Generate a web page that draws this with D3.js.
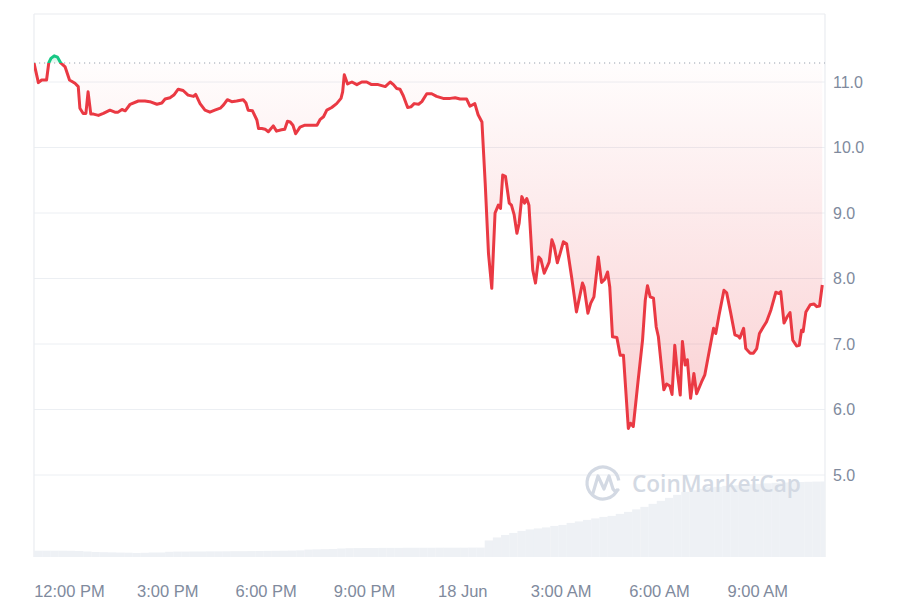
<!DOCTYPE html>
<html><head><meta charset="utf-8">
<script src="https://cdn.jsdelivr.net/npm/d3@7"></script>
<style>html,body{margin:0;padding:0;background:#fff}svg{display:block}</style>
</head><body>
<svg id="chart" width="922" height="614"></svg>
<script>
// ---- data ----
const startTime = new Date(2024, 5, 17, 10, 56);
const spanMinutes = 1448;
// minutes after startTime
const priceMinutes = [0,8,14,23,27,31,37,43,49,57,65,75,81,84,90,95,99,104,109,118,127,139,148,154,161,167,176,191,203,212,225,234,240,249,256,264,273,282,292,296,304,313,322,331,341,347,354,362,371,383,388,392,400,408,411,417,423,429,438,444,453,459,464,469,474,479,487,496,508,518,524,530,536,545,554,562,565,568,574,582,591,600,609,618,630,643,652,658,664,670,676,684,690,696,704,710,719,728,737,749,762,771,780,792,798,807,813,820,826,832,838,844,850,854,858,863,870,874,879,884,888,893,898,902,906,913,918,924,928,934,943,948,952,958,963,969,975,984,993,1004,1007,1014,1019,1025,1033,1039,1045,1050,1054,1059,1067,1073,1079,1088,1092,1097,1106,1114,1119,1123,1128,1134,1139,1143,1153,1158,1164,1168,1173,1178,1183,1187,1192,1196,1202,1208,1213,1222,1228,1237,1244,1248,1254,1263,1268,1275,1283,1289,1292,1299,1303,1311,1317,1323,1328,1335,1341,1349,1358,1364,1367,1373,1379,1384,1389,1396,1401,1405,1408,1413,1421,1428,1433,1438,1443];
const prices = [11.29,10.99,11.03,11.03,11.29,11.36,11.40,11.38,11.29,11.23,11.03,10.98,10.93,10.60,10.52,10.52,10.85,10.51,10.51,10.49,10.52,10.57,10.54,10.54,10.58,10.56,10.66,10.71,10.71,10.70,10.66,10.68,10.74,10.76,10.80,10.89,10.87,10.80,10.78,10.81,10.67,10.57,10.54,10.57,10.60,10.65,10.73,10.70,10.71,10.73,10.68,10.57,10.56,10.42,10.29,10.29,10.28,10.24,10.33,10.25,10.27,10.28,10.40,10.39,10.34,10.21,10.31,10.34,10.34,10.34,10.43,10.47,10.57,10.61,10.67,10.75,10.85,11.11,10.97,11.00,10.96,11.00,11.00,10.96,10.96,10.93,11.00,10.96,10.90,10.89,10.79,10.61,10.62,10.67,10.66,10.70,10.82,10.82,10.78,10.75,10.75,10.76,10.74,10.74,10.63,10.67,10.50,10.39,9.45,8.38,7.85,9.00,9.12,9.07,9.58,9.56,9.15,9.12,8.97,8.69,8.84,9.25,9.15,9.22,9.12,8.13,7.93,8.33,8.29,8.08,8.25,8.59,8.50,8.24,8.38,8.56,8.53,8.03,7.49,7.93,7.87,7.47,7.62,7.72,8.33,7.94,7.99,8.10,7.87,7.11,7.10,6.83,6.83,5.71,5.79,5.74,6.45,7.06,7.67,7.89,7.72,7.70,7.26,7.11,6.30,6.39,6.36,6.23,6.98,6.55,6.22,7.04,6.68,6.76,6.17,6.55,6.24,6.42,6.53,6.93,7.24,7.16,7.44,7.82,7.78,7.49,7.14,7.12,7.09,7.24,6.93,6.86,6.86,6.93,7.16,7.26,7.34,7.52,7.79,7.77,7.80,7.32,7.42,7.48,7.06,6.97,6.98,7.21,7.19,7.49,7.60,7.61,7.57,7.58,7.90];
// volume, one value per 15-minute bar (relative units)
const volumes = [6.3,6.3,6.3,6.3,6.2,6.0,5.5,5.0,4.8,4.6,4.4,4.3,4.0,4.2,4.5,4.5,5.2,5.4,5.4,5.5,5.5,5.6,5.6,5.7,5.8,5.8,5.9,6.0,6.1,6.2,6.3,6.4,6.6,7.4,7.6,7.8,8.0,8.5,8.8,8.9,9.0,9.0,9.1,9.1,9.1,9.2,9.2,9.2,9.2,9.3,9.3,9.3,9.3,9.4,9.4,16.5,19.5,22,24,26,27.5,28.5,29.5,31,32,34,35.5,37,38.5,40,41,43,45,47.5,50,53,56,59,62,65,66.5,68,69.5,70,71,71.5,72,72.5,73,73.5,74,74.3,74.6,74.8,75,75.2,75.3];
const volumeStepMinutes = 15;
const yTicks = [5, 6, 7, 8, 9, 10, 11];
const xTickTimes = [new Date(2024,5,17,12), new Date(2024,5,17,15), new Date(2024,5,17,18), new Date(2024,5,17,21), new Date(2024,5,18,0), new Date(2024,5,18,3), new Date(2024,5,18,6), new Date(2024,5,18,9)];
const xTickLabels = ["12:00 PM","3:00 PM","6:00 PM","9:00 PM","18 Jun","3:00 AM","6:00 AM","9:00 AM"];

// ---- layout ----
const L = 34, R = 825, T = 14, B = 557;
const svg = d3.select("#chart");
const addMin = m => new Date(startTime.getTime() + m * 60000);
const x = d3.scaleTime().domain([startTime, addMin(spanMinutes)]).range([L, R]);
const y = d3.scaleLinear().domain([5, 11]).range([475, 82]);
const vol = d3.scaleLinear().domain([0, d3.max(volumes)]).range([0, 75.5]);
const data = priceMinutes.map((m, i) => ({t: addMin(m), v: prices[i]}));
const base = prices[0];

const defs = svg.append("defs");
defs.append("clipPath").attr("id","plot").append("rect").attr("x",L).attr("y",T).attr("width",R-L).attr("height",B-T);
defs.append("clipPath").attr("id","above").append("rect").attr("x",L).attr("y",T).attr("width",R-L).attr("height",y(base)-T);
defs.append("clipPath").attr("id","below").append("rect").attr("x",L).attr("y",y(base)).attr("width",R-L).attr("height",B-y(base));
const gr = defs.append("linearGradient").attr("id","redg").attr("gradientUnits","userSpaceOnUse")
  .attr("x1",0).attr("x2",0).attr("y1",y(base)).attr("y2",y(5.7));
gr.append("stop").attr("offset","0").attr("stop-color","#ea3943").attr("stop-opacity",0.01);
gr.append("stop").attr("offset","1").attr("stop-color","#ea3943").attr("stop-opacity",0.24);
const gg = defs.append("linearGradient").attr("id","greeng").attr("gradientUnits","userSpaceOnUse")
  .attr("x1",0).attr("x2",0).attr("y1",y(11.45)).attr("y2",y(base));
gg.append("stop").attr("offset","0").attr("stop-color","#16c784").attr("stop-opacity",0.35);
gg.append("stop").attr("offset","1").attr("stop-color","#16c784").attr("stop-opacity",0.05);

// grid
svg.append("g").selectAll("line").data(yTicks).join("line")
  .attr("x1",L).attr("x2",R).attr("y1",d=>y(d)).attr("y2",d=>y(d))
  .attr("stroke","#eceff3").attr("stroke-width",1);
// frame
const frame = svg.append("g").attr("stroke","#e9ecf0").attr("stroke-width",1.2);
frame.append("line").attr("x1",L).attr("x2",R).attr("y1",T).attr("y2",T);
frame.append("line").attr("x1",L).attr("x2",L).attr("y1",T).attr("y2",B);
frame.append("line").attr("x1",R).attr("x2",R).attr("y1",T).attr("y2",B);

// volume bars
const barW = x(addMin(volumeStepMinutes)) - x(startTime);
svg.append("g").attr("clip-path","url(#plot)").selectAll("rect").data(volumes).join("rect")
  .attr("x",(d,i)=>x(addMin(i*volumeStepMinutes)))
  .attr("width",barW+0.2)
  .attr("y",d=>B-vol(d)).attr("height",d=>vol(d))
  .attr("fill","#eef1f5");

// watermark
const wm = svg.append("g").attr("fill","none").attr("stroke","#d3d9e3").attr("stroke-width",3.2).attr("stroke-linecap","round");
wm.append("path").attr("d", d3.arc()({innerRadius:16, outerRadius:16, startAngle: Math.PI*0.62, endAngle: Math.PI*2.45})).attr("transform","translate(603,483)");
wm.append("path").attr("d","M593,493 L598,476 L604,489 L609,476 L613,489 Q615,492 618,490").attr("stroke-linejoin","round");
svg.append("text").attr("x",632).attr("y",492).text("CoinMarketCap")
  .attr("font-family","'Open Sans','Noto Sans',sans-serif").attr("font-size",22.6).attr("font-weight",600)
  .attr("fill","#d3d9e3");

// area fills
const area = d3.area().x(d=>x(d.t)).y0(y(base)).y1(d=>y(d.v));
svg.append("path").datum(data).attr("d",area).attr("fill","url(#redg)").attr("clip-path","url(#below)");
svg.append("path").datum(data).attr("d",area).attr("fill","url(#greeng)").attr("clip-path","url(#above)");

// baseline
svg.append("line").attr("x1",L).attr("x2",R).attr("y1",y(base)).attr("y2",y(base))
  .attr("stroke","#9aa1ad").attr("stroke-width",1.2).attr("stroke-dasharray","1.2,3.8");

// price line
const line = d3.line().x(d=>x(d.t)).y(d=>y(d.v));
svg.append("path").datum(data).attr("d",line).attr("fill","none").attr("stroke","#ea3943")
  .attr("stroke-width",3).attr("stroke-linejoin","round").attr("clip-path","url(#below)");
svg.append("path").datum(data).attr("d",line).attr("fill","none").attr("stroke","#16c784")
  .attr("stroke-width",3).attr("stroke-linejoin","round").attr("clip-path","url(#above)");

// y axis (right)
const yAxis = d3.axisRight(y).tickValues(yTicks).tickFormat(d3.format(".1f")).tickSize(0).tickPadding(0);
const ya = svg.append("g").attr("transform",`translate(${R+8},0)`).call(yAxis);
ya.select(".domain").remove();
ya.selectAll("text").attr("font-family","'Liberation Sans',Arial,sans-serif").attr("font-size",16).attr("fill","#808a9d");

// x axis
const xAxis = d3.axisBottom(x).tickValues(xTickTimes).tickFormat((d,i)=>xTickLabels[i]).tickSize(0).tickPadding(0);
const xa = svg.append("g").attr("transform",`translate(0,${B+28})`).call(xAxis);
xa.select(".domain").remove();
xa.selectAll("text").attr("font-family","'Liberation Sans',Arial,sans-serif").attr("font-size",16.5).attr("fill","#808a9d");
</script>
</body></html>
